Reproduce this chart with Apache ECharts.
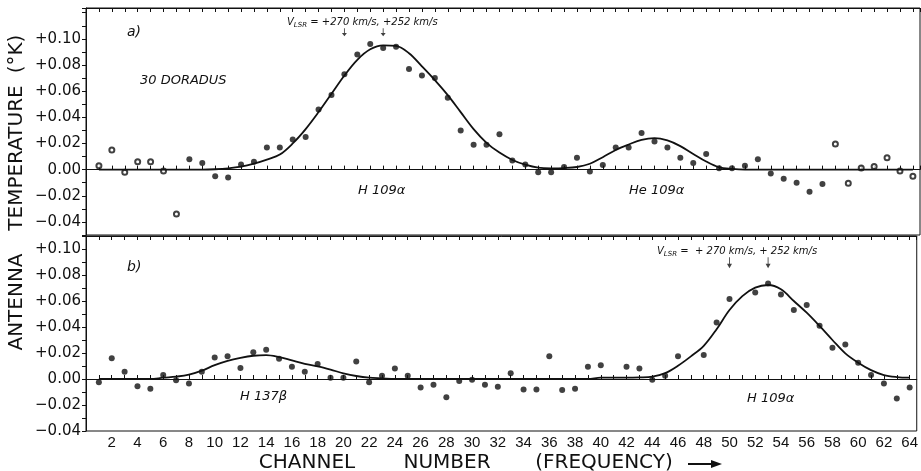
<!DOCTYPE html>
<html>
<head>
<meta charset="utf-8">
<title>30 Doradus - H109α / He109α</title>
<script src="https://cdn.jsdelivr.net/npm/echarts/dist/echarts.min.js"></script>
<style>
  html, body { margin: 0; padding: 0; background: #fff; }
  #chart { width: 921px; height: 471px; }
</style>
</head>
<body>
<div id="chart"></div>
<script>
// channel numbers (x)
const channels = [1, 2, 3, 4, 5, 6, 7, 8, 9, 10, 11, 12, 13, 14, 15, 16,
  17, 18, 19, 20, 21, 22, 23, 24, 25, 26, 27, 28, 29, 30, 31, 32,
  33, 34, 35, 36, 37, 38, 39, 40, 41, 42, 43, 44, 45, 46, 47, 48,
  49, 50, 51, 52, 53, 54, 55, 56, 57, 58, 59, 60, 61, 62, 63, 64]

// a) 30 Doradus, measured (open circles at the band edges)
const topValues = [0.003, 0.015, -0.002, 0.006, 0.006, -0.001, -0.034, 0.008,
  0.005, -0.005, -0.006, 0.004, 0.006, 0.017, 0.017, 0.023,
  0.025, 0.046, 0.057, 0.073, 0.088, 0.096, 0.093, 0.094,
  0.077, 0.072, 0.070, 0.055, 0.030, 0.019, 0.019, 0.027,
  0.007, 0.004, -0.002, -0.002, 0.002, 0.009, -0.0015, 0.0035,
  0.017, 0.017, 0.028, 0.0215, 0.017, 0.009, 0.005, 0.012,
  0.001, 0.001, 0.003, 0.008, -0.003, -0.007, -0.010, -0.017,
  -0.011, 0.0195, -0.0105, 0.0013, 0.0023, 0.009, -0.001, -0.005]
const topOpenChannels = [1, 2, 3, 4, 5, 6, 7, 58, 59, 60, 61, 62, 63, 64]

// a) fitted profile
const topFit = [0, 0, 0, 0, 0, 0, 0, 0,
  0, 0.0003, 0.001, 0.0023, 0.0046, 0.0077, 0.0115, 0.020,
  0.031, 0.044, 0.058, 0.072, 0.084, 0.092, 0.095, 0.0946,
  0.089, 0.079, 0.0685, 0.057, 0.044, 0.031, 0.0205, 0.013,
  0.0074, 0.0038, 0.0015, 0.001, 0.0012, 0.002, 0.0045, 0.0095,
  0.015, 0.0192, 0.0228, 0.0241, 0.0223, 0.018, 0.012, 0.0062,
  0.0018, 0.0005, 0, 0, 0, 0, 0, 0,
  0, 0, 0, 0, 0, 0, 0, 0]

// b) measured (no point at 41, 47, 51)
const bottomValues = [-0.0025, 0.016, 0.0055, -0.0055, -0.0075, 0.003, -0.001, -0.0035,
  0.0055, 0.0165, 0.0175, 0.0085, 0.0205, 0.0225, 0.0155, 0.0095,
  0.0055, 0.0115, 0.001, 0.001, 0.0135, -0.0025, 0.0025, 0.008,
  0.0025, -0.0065, -0.0045, -0.014, -0.0015, -0.0005, -0.0045, -0.006,
  0.0045, -0.008, -0.008, 0.0175, -0.0085, -0.0075, 0.0095, 0.0105,
  null, 0.0095, 0.008, -0.0005, 0.0025, 0.0175, null, 0.0185,
  0.0435, 0.0615, null, 0.0665, 0.0735, 0.065, 0.053, 0.057,
  0.041, 0.024, 0.0265, 0.0125, 0.003, -0.0035, -0.015, -0.0065]

// b) fitted profile
const bottomFit = [0, 0, 0, 0, 0, 0.001, 0.0018, 0.0033,
  0.0064, 0.0107, 0.014, 0.0163, 0.0179, 0.0184, 0.0169, 0.0143,
  0.0117, 0.0097, 0.0072, 0.0044, 0.0023, 0.001, 0.0005, 0,
  0, 0, 0, 0, 0, 0, 0, 0,
  0, 0, 0, 0, 0, 0, 0, 0.001,
  0.001, 0.001, 0.0012, 0.0018, 0.0045, 0.0102, 0.0174, 0.0255,
  0.0383, 0.0531, 0.0638, 0.0703, 0.0723, 0.069, 0.060, 0.051,
  0.0408, 0.030, 0.0197, 0.0125, 0.0068, 0.003, 0.0015, 0.001]

// velocity marker arrows (channel, temperature at arrow)
const topArrowChannels = [20, 23]
const topArrowLevel = 0.105
const bottomArrowChannels = [50, 53]
const bottomArrowLevel = 0.0895

// tick labels
const yTickValues = [-0.04, -0.02, 0, 0.02, 0.04, 0.06, 0.08, 0.10]
const yTickLabels = ['−0.04', '−0.02', '0.00', '+0.02', '+0.04', '+0.06', '+0.08', '+0.10']
const xLabelChannels = [2, 4, 6, 8, 10, 12, 14, 16, 18, 20, 22, 24, 26, 28, 30, 32,
  34, 36, 38, 40, 42, 44, 46, 48, 50, 52, 54, 56, 58, 60, 62, 64]

const INK = '#111'

function pairs (vals, keep) {
  const out = []
  for (let i = 0; i < channels.length; i++) {
    if (vals[i] === null) continue
    if (keep && !keep(channels[i])) continue
    out.push([channels[i], vals[i]])
  }
  return out
}

function yLabel (v) {
  for (let i = 0; i < yTickValues.length; i++) {
    if (Math.abs(v - yTickValues[i]) < 0.001) return yTickLabels[i]
  }
  return ''
}

function xLabel (v) {
  return xLabelChannels.indexOf(Math.round(v)) >= 0 && Math.abs(v - Math.round(v)) < 0.01 ? String(Math.round(v)) : ''
}

const chart = echarts.init(document.getElementById('chart'))

const xBase = {
  type: 'value',
  min: 0,
  max: 64.55,
  interval: 1,
  axisLine: { lineStyle: { color: INK, width: 1 } },
  axisTick: { inside: true, length: 4, lineStyle: { color: INK } },
  axisLabel: { show: false },
  splitLine: { show: false }
}

const yBase = {
  type: 'value',
  interval: 0.01,
  axisLine: { show: true, lineStyle: { color: INK, width: 1 } },
  axisTick: { show: true, inside: false, length: 4, lineStyle: { color: INK } },
  axisLabel: {
    formatter: yLabel,
    fontFamily: 'DejaVu Sans',
    fontSize: 15,
    color: INK,
    margin: 5,
    showMinLabel: true,
    showMaxLabel: true
  },
  splitLine: { show: false }
}

const arrowPath = 'path://M4.4,0 L5.6,0 L5.6,9 L8.5,9 L5,15 L1.5,9 L4.4,9 Z'
const italic = { fontFamily: 'DejaVu Sans', fontStyle: 'italic', fill: INK }
const titleFont = { fontFamily: 'DejaVu Sans', fontSize: 20, fill: INK, align: 'center', verticalAlign: 'middle' }
const vlsrRich = {
  v: { fontFamily: 'DejaVu Sans', fontStyle: 'italic', fontSize: 10, fill: INK, color: INK },
  s: { fontFamily: 'DejaVu Sans', fontStyle: 'italic', fontSize: 7, fill: INK, color: INK, padding: [6, 0, 0, 0] }
}

function vertical (text, y) {
  return { type: 'text', x: 17, y: y, rotation: Math.PI / 2, style: Object.assign({ text: text }, titleFont) }
}
function horizontal (text, x) {
  return { type: 'text', x: x, y: 463, style: Object.assign({ text: text }, titleFont) }
}

const option = {
  animation: false,
  backgroundColor: '#fff',
  grid: [
    { left: 86, right: 1, top: 8, height: 227, show: true, borderColor: INK, borderWidth: 1 },
    { left: 86, right: 1, top: 236, height: 195, show: true, borderColor: INK, borderWidth: 1 }
  ],
  xAxis: [
    Object.assign({}, xBase, { gridIndex: 0, position: 'bottom' }),
    Object.assign({}, xBase, { gridIndex: 0, position: 'top' }),
    Object.assign({}, xBase, {
      gridIndex: 1,
      position: 'bottom',
      axisLabel: { show: true, formatter: xLabel, fontFamily: 'Liberation Sans', fontSize: 15, color: INK, margin: 4, showMaxLabel: false }
    }),
    Object.assign({}, xBase, { gridIndex: 1, position: 'top' })
  ],
  yAxis: [
    Object.assign({}, yBase, { gridIndex: 0, min: -0.05, max: 0.1236 }),
    Object.assign({}, yBase, { gridIndex: 1, min: -0.04, max: 0.11 })
  ],
  series: [
    {
      name: 'a) fit',
      type: 'line',
      xAxisIndex: 0,
      yAxisIndex: 0,
      smooth: 0.35,
      showSymbol: false,
      lineStyle: { color: INK, width: 1.8 },
      data: pairs(topFit)
    },
    {
      name: 'a) measured',
      type: 'scatter',
      xAxisIndex: 0,
      yAxisIndex: 0,
      symbol: 'circle',
      symbolSize: 6,
      itemStyle: { color: INK },
      data: pairs(topValues, c => topOpenChannels.indexOf(c) < 0)
    },
    {
      name: 'a) edge channels',
      type: 'scatter',
      xAxisIndex: 0,
      yAxisIndex: 0,
      symbol: 'emptyCircle',
      symbolSize: 5,
      itemStyle: { color: INK, borderWidth: 1 },
      data: pairs(topValues, c => topOpenChannels.indexOf(c) >= 0)
    },
    {
      name: 'a) arrows',
      type: 'scatter',
      xAxisIndex: 0,
      yAxisIndex: 0,
      symbol: arrowPath,
      symbolSize: [5, 8],
      itemStyle: { color: INK },
      data: topArrowChannels.map(c => [c, topArrowLevel])
    },
    {
      name: 'b) fit',
      type: 'line',
      xAxisIndex: 2,
      yAxisIndex: 1,
      smooth: 0.35,
      showSymbol: false,
      lineStyle: { color: INK, width: 1.8 },
      data: pairs(bottomFit)
    },
    {
      name: 'b) measured',
      type: 'scatter',
      xAxisIndex: 2,
      yAxisIndex: 1,
      symbol: 'circle',
      symbolSize: 6,
      itemStyle: { color: INK },
      data: pairs(bottomValues)
    },
    {
      name: 'b) arrows',
      type: 'scatter',
      xAxisIndex: 2,
      yAxisIndex: 1,
      symbol: arrowPath,
      symbolSize: [5, 11],
      itemStyle: { color: INK },
      data: bottomArrowChannels.map(c => [c, bottomArrowLevel])
    }
  ],
  graphic: [
    // axis titles, one word at a time (widely spaced in the original)
    vertical('ANTENNA', 302),
    vertical('TEMPERATURE', 158),
    vertical('(°K)', 54),
    horizontal('CHANNEL', 307),
    horizontal('NUMBER', 447),
    horizontal('(FREQUENCY)', 604),
    {
      type: 'line',
      shape: { x1: 688, y1: 464, x2: 714, y2: 464 },
      style: { stroke: INK, lineWidth: 2 }
    },
    {
      type: 'polygon',
      shape: { points: [[711, 460], [722, 464], [711, 468]] },
      style: { fill: INK }
    },
    // panel a) annotations
    { type: 'text', left: 127, top: 25, style: Object.assign({ text: 'a)', fontSize: 14 }, italic) },
    { type: 'text', left: 140, top: 74, style: Object.assign({ text: '30 DORADUS', fontSize: 13 }, italic) },
    { type: 'text', left: 358, top: 184, style: Object.assign({ text: 'H 109α', fontSize: 13 }, italic) },
    { type: 'text', left: 629, top: 184, style: Object.assign({ text: 'He 109α', fontSize: 13 }, italic) },
    {
      type: 'text',
      left: 287,
      top: 17,
      style: Object.assign({ text: '{v|V}{s|LSR}{v| = +270 km/s, +252 km/s}', rich: vlsrRich }, italic)
    },
    // panel b) annotations
    { type: 'text', left: 127, top: 260, style: Object.assign({ text: 'b)', fontSize: 14 }, italic) },
    { type: 'text', left: 240, top: 390, style: Object.assign({ text: 'H 137β', fontSize: 13 }, italic) },
    { type: 'text', left: 747, top: 392, style: Object.assign({ text: 'H 109α', fontSize: 13 }, italic) },
    {
      type: 'text',
      left: 657,
      top: 246,
      style: Object.assign({ text: '{v|V}{s|LSR}{v| =  + 270 km/s, + 252 km/s}', rich: vlsrRich }, italic)
    }
  ]
}

chart.setOption(option)
</script>
</body>
</html>
